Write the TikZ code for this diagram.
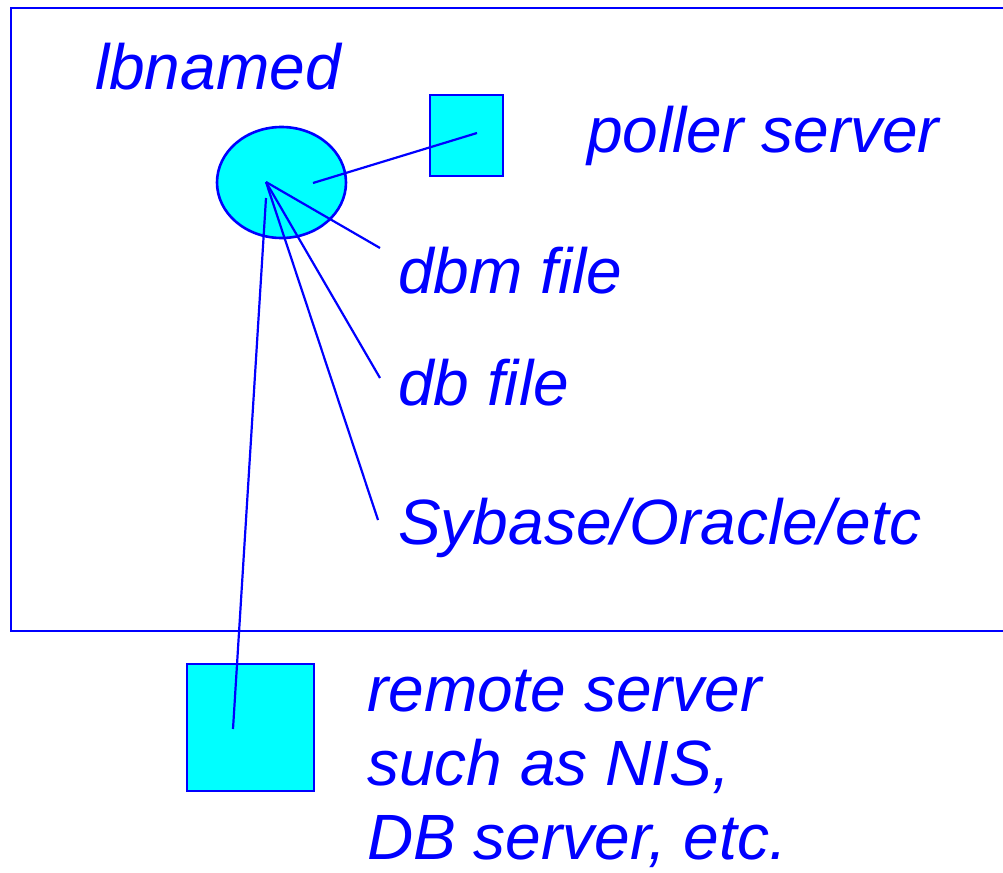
\documentclass[tikz,border=0pt]{standalone}
\usepackage{fontspec}
\setmainfont{Liberation Sans}
\usetikzlibrary{shapes.geometric}
\definecolor{lblue}{RGB}{0,0,255}
\definecolor{lcyan}{RGB}{0,255,255}
\begin{document}
\begin{tikzpicture}[x=1pt,y=-1pt,
  shapeline/.style={draw=lblue,line width=2.6pt,fill=lcyan},
  conn/.style={draw=lblue,line width=2.2pt},
  lbl/.style={anchor=base west,inner sep=0pt,text=lblue,font=\fontsize{64}{75}\selectfont\itshape}]
\useasboundingbox (0,0) rectangle (1003,872);
% frame
\draw[lblue,line width=2.5pt] (1010,8) -- (11,8) -- (11,631) -- (1010,631);
% shapes
\node[shapeline,ellipse,minimum width=129pt,minimum height=111pt,inner sep=0pt] (lb) at (281.5,182.5) {};
\node[shapeline,rectangle,minimum width=73pt,minimum height=81pt,inner sep=0pt] (poller) at (466.5,135.5) {};
\node[shapeline,rectangle,minimum width=127pt,minimum height=127pt,inner sep=0pt] (remote) at (250.5,727.5) {};
% connector end points
\coordinate (pa) at (313,183);
\coordinate (pb) at (477,133);
\coordinate (f) at (266,182);
\coordinate (fr) at (266,198);
\coordinate (dbm) at (380,248);
\coordinate (db) at (380,378);
\coordinate (syb) at (378,520);
\coordinate (rm) at (233,729);
\draw[conn] (pa) -- (pb);
\draw[conn] (f) -- (dbm);
\draw[conn] (f) -- (db);
\draw[conn] (f) -- (syb);
\draw[conn] (fr) -- (rm);
% labels
\node[lbl] (tlb) at (95,90) {lbnamed};
\node[lbl] (tpoll) at (587,152) {poller server};
\node[lbl] (tdbm) at (398,293) {dbm file};
\node[lbl] (tdb) at (398,405) {db file};
\node[lbl] (tsyb) at (398,544) {Sybase/Oracle/etc};
\node[lbl] (tr1) at (367,711) {remote server};
\node[lbl] (tr2) at (367,785) {such as NIS,};
\node[lbl] (tr3) at (367,859) {DB server, etc.};
\end{tikzpicture}
\end{document}
